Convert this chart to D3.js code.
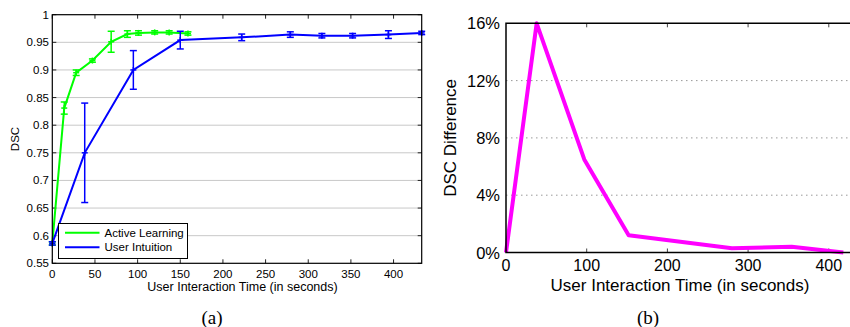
<!DOCTYPE html>
<html>
<head>
<meta charset="utf-8">
<script src="https://cdn.jsdelivr.net/npm/d3@7"></script>
<style>
  body { margin: 0; background: #fff; }
  svg { display: block; font-family: Arial, "Liberation Sans", sans-serif; }
</style>
</head>
<body>
<svg id="fig" width="850" height="327"></svg>
<script>
`use strict`;

// (a) Active Learning vs User Intuition
const alTime = [0, 14, 28, 47, 69, 88, 101, 120, 137, 159];
const alDsc = [0.586, 0.831, 0.895, 0.917, 0.951, 0.965, 0.967, 0.968, 0.968, 0.966];
const alErr = [0.003, 0.011, 0.005, 0.003, 0.019, 0.006, 0.004, 0.003, 0.003, 0.003];

const uiTime = [0, 38, 95, 150, 222, 279, 316, 352, 394, 433];
const uiDsc = [0.586, 0.750, 0.900, 0.954, 0.959, 0.964, 0.962, 0.962, 0.964, 0.967];
const uiErr = [0.003, 0.090, 0.035, 0.016, 0.006, 0.005, 0.004, 0.004, 0.007, 0.003];

const aXTicks = [0, 50, 100, 150, 200, 250, 300, 350, 400];
const aYTicks = [0.55, 0.6, 0.65, 0.7, 0.75, 0.8, 0.85, 0.9, 0.95, 1];
const legendNames = [`Active Learning`, `User Intuition`];

// (b) DSC difference
const diffTime = [0, 38, 97, 152, 280, 354, 418];
const diffPct = [0, 16, 6.5, 1.2, 0.3, 0.4, 0];
const bXTicks = [0, 100, 200, 300, 400];
const bYTicks = [0, 4, 8, 12, 16];

const svg = d3.select(`#fig`);

// ---------- panel (a)
let xa = d3.scaleLinear().domain([0, 433]).range([52.3, 421.7]);
let ya = d3.scaleLinear().domain([0.55, 1]).range([263.3, 14.7]);

let pa = svg.append(`g`);

pa.selectAll(`line.grid`).data(aYTicks.slice(1, -1))
  .enter()
  .append(`line`)
  .attr(`x1`, xa(0)).attr(`x2`, xa(433))
  .attr(`y1`, d => ya(d)).attr(`y2`, d => ya(d))
  .attr(`stroke`, `#c8c8c8`)
  .attr(`stroke-width`, 1);

// inside ticks, all four sides
let tk = 4;
pa.selectAll(`line.xtb`).data(aXTicks).enter().append(`line`)
  .attr(`x1`, d => xa(d)).attr(`x2`, d => xa(d))
  .attr(`y1`, ya(0.55)).attr(`y2`, ya(0.55) - tk)
  .attr(`stroke`, `#222`);
pa.selectAll(`line.xtt`).data(aXTicks).enter().append(`line`)
  .attr(`x1`, d => xa(d)).attr(`x2`, d => xa(d))
  .attr(`y1`, ya(1)).attr(`y2`, ya(1) + tk)
  .attr(`stroke`, `#222`);
pa.selectAll(`line.ytl`).data(aYTicks).enter().append(`line`)
  .attr(`x1`, xa(0)).attr(`x2`, xa(0) + tk)
  .attr(`y1`, d => ya(d)).attr(`y2`, d => ya(d))
  .attr(`stroke`, `#222`);
pa.selectAll(`line.ytr`).data(aYTicks).enter().append(`line`)
  .attr(`x1`, xa(433)).attr(`x2`, xa(433) - tk)
  .attr(`y1`, d => ya(d)).attr(`y2`, d => ya(d))
  .attr(`stroke`, `#222`);

pa.selectAll(`text.xl`).data(aXTicks).enter().append(`text`)
  .attr(`x`, d => xa(d)).attr(`y`, 278)
  .attr(`text-anchor`, `middle`)
  .attr(`font-size`, 11.5)
  .text(d => d);

pa.selectAll(`text.yl`).data(aYTicks).enter().append(`text`)
  .attr(`x`, 49).attr(`y`, d => ya(d) + 4)
  .attr(`text-anchor`, `end`)
  .attr(`font-size`, 11.5)
  .text(d => d);

pa.append(`text`)
  .attr(`transform`, `translate(18.5,${ya(0.775)}) rotate(-90)`)
  .attr(`text-anchor`, `middle`)
  .attr(`font-size`, 11.5)
  .text(`DSC`);

pa.append(`text`)
  .attr(`x`, 242.5).attr(`y`, 290.5)
  .attr(`text-anchor`, `middle`)
  .attr(`font-size`, 12.5)
  .text(`User Interaction Time (in seconds)`);

let series = [
  {t: alTime, v: alDsc, e: alErr, color: `#00ff00`},
  {t: uiTime, v: uiDsc, e: uiErr, color: `#0000ff`}
];

let lineA = d3.line().x(d => xa(d[0])).y(d => ya(d[1]));

series.forEach(S => {

  let pts = S.t.map((t, i) => [t, S.v[i], S.e[i]]);

  pa.append(`path`)
    .attr(`d`, lineA(pts))
    .attr(`fill`, `none`)
    .attr(`stroke`, S.color)
    .attr(`stroke-width`, 2);

  let g = pa.append(`g`).attr(`stroke`, S.color).attr(`stroke-width`, 1.5);

  pts.forEach(P => {
    let x = xa(P[0]), y0 = ya(P[1] - P[2]), y1 = ya(P[1] + P[2]);
    g.append(`line`).attr(`x1`, x).attr(`x2`, x).attr(`y1`, y0).attr(`y2`, y1);
    g.append(`line`).attr(`x1`, x - 3.5).attr(`x2`, x + 3.5).attr(`y1`, y0).attr(`y2`, y0);
    g.append(`line`).attr(`x1`, x - 3.5).attr(`x2`, x + 3.5).attr(`y1`, y1).attr(`y2`, y1);
    // plus marker
    let y = ya(P[1]);
    g.append(`line`).attr(`x1`, x - 3).attr(`x2`, x + 3).attr(`y1`, y).attr(`y2`, y);
    g.append(`line`).attr(`x1`, x).attr(`x2`, x).attr(`y1`, y - 3).attr(`y2`, y + 3);
  });
});

pa.append(`rect`)
  .attr(`x`, xa(0)).attr(`y`, ya(1))
  .attr(`width`, xa(433) - xa(0))
  .attr(`height`, ya(0.55) - ya(1))
  .attr(`fill`, `none`)
  .attr(`stroke`, `#000`)
  .attr(`stroke-width`, 1.2);

// legend
let lg = pa.append(`g`);
lg.append(`rect`)
  .attr(`x`, 58.5).attr(`y`, 223.5)
  .attr(`width`, 129).attr(`height`, 35)
  .attr(`fill`, `#fff`)
  .attr(`stroke`, `#000`);

legendNames.forEach((name, i) => {
  let y = 232.7 + i * 14.6;
  lg.append(`line`)
    .attr(`x1`, 65).attr(`x2`, 99.5)
    .attr(`y1`, y).attr(`y2`, y)
    .attr(`stroke`, series[i].color)
    .attr(`stroke-width`, 2);
  lg.append(`text`)
    .attr(`x`, 104.5).attr(`y`, y + 4)
    .attr(`font-size`, 11.5)
    .text(name);
});

svg.append(`text`)
  .attr(`x`, 212).attr(`y`, 324)
  .attr(`text-anchor`, `middle`)
  .attr(`font-family`, `"Liberation Serif", "Times New Roman", serif`)
  .attr(`font-size`, 19)
  .text(`(a)`);

// ---------- panel (b)
let xb = d3.scaleLinear().domain([0, 430]).range([506, 853]);
let yb = d3.scaleLinear().domain([0, 16]).range([252.5, 23.3]);

let pb = svg.append(`g`);

pb.selectAll(`line.grid`).data(bYTicks.slice(1, -1))
  .enter()
  .append(`line`)
  .attr(`x1`, xb(0)).attr(`x2`, xb(430))
  .attr(`y1`, d => yb(d)).attr(`y2`, d => yb(d))
  .attr(`stroke`, `#999`)
  .attr(`stroke-dasharray`, `1.5,3.5`);

pb.selectAll(`line.xtb`).data(bXTicks.slice(1)).enter().append(`line`)
  .attr(`x1`, d => xb(d)).attr(`x2`, d => xb(d))
  .attr(`y1`, yb(0)).attr(`y2`, yb(0) - 4)
  .attr(`stroke`, `#444`);
pb.selectAll(`line.xtt`).data(bXTicks.slice(1)).enter().append(`line`)
  .attr(`x1`, d => xb(d)).attr(`x2`, d => xb(d))
  .attr(`y1`, yb(16)).attr(`y2`, yb(16) + 4)
  .attr(`stroke`, `#444`);

pb.append(`path`)
  .attr(`d`, d3.line().x((d, i) => xb(diffTime[i])).y(d => yb(d))(diffPct))
  .attr(`fill`, `none`)
  .attr(`stroke`, `#ff00ff`)
  .attr(`stroke-width`, 4)
  .attr(`stroke-linejoin`, `round`);

pb.append(`path`)
  .attr(`d`, `M${xb(430)},${yb(16)}H${xb(0)}V${yb(0)}H${xb(430)}`)
  .attr(`fill`, `none`)
  .attr(`stroke`, `#000`)
  .attr(`stroke-width`, 1.5);

pb.selectAll(`text.xl`).data(bXTicks).enter().append(`text`)
  .attr(`x`, d => xb(d)).attr(`y`, 270.5)
  .attr(`text-anchor`, `middle`)
  .attr(`font-size`, 16)
  .text(d => d);

pb.selectAll(`text.yl`).data(bYTicks).enter().append(`text`)
  .attr(`x`, 500).attr(`y`, d => yb(d) + 6)
  .attr(`text-anchor`, `end`)
  .attr(`font-size`, 16.5)
  .text(d => d + `%`);

pb.append(`text`)
  .attr(`transform`, `translate(456,${yb(8)}) rotate(-90)`)
  .attr(`text-anchor`, `middle`)
  .attr(`font-size`, 17)
  .text(`DSC Difference`);

pb.append(`text`)
  .attr(`x`, 680).attr(`y`, 291)
  .attr(`text-anchor`, `middle`)
  .attr(`font-size`, 17)
  .text(`User Interaction Time (in seconds)`);

svg.append(`text`)
  .attr(`x`, 648).attr(`y`, 324)
  .attr(`text-anchor`, `middle`)
  .attr(`font-family`, `"Liberation Serif", "Times New Roman", serif`)
  .attr(`font-size`, 19)
  .text(`(b)`);
</script>
</body>
</html>
